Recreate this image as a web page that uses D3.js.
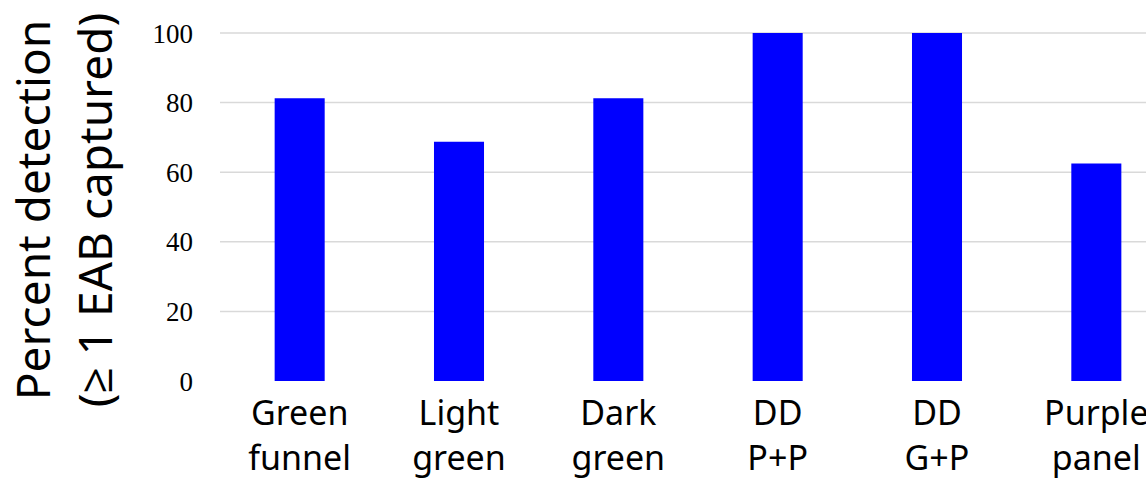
<!DOCTYPE html>
<html>
<head>
<meta charset="utf-8">
<script src="https://cdn.jsdelivr.net/npm/d3@7"></script>
<style>
  html, body { margin: 0; padding: 0; background: #fff; }
  svg { display: block; }
</style>
</head>
<body>
<svg id="chart" width="1146" height="479"></svg>
<script>
const categories = [["Green", "funnel"], ["Light", "green"], ["Dark", "green"], ["DD", "P+P"], ["DD", "G+P"], ["Purple", "panel"]];
const values = [81.25, 68.75, 81.25, 100, 100, 62.5];
const yTicks = [0, 20, 40, 60, 80, 100];
const yTitle = ["Percent detection", "(\u2265 1 EAB captured)"];

const svg = d3.select("#chart");
const plotLeft = 220, plotRight = 1176, plotTop = 33, plotBottom = 381;

const x = d3.scaleBand()
  .domain(d3.range(categories.length))
  .range([plotLeft, plotRight])
  .paddingInner(0.686)
  .paddingOuter(0.343);

const y = d3.scaleLinear().domain([0, 100]).range([plotBottom, plotTop]);

// gridlines
svg.append("g").selectAll("line")
  .data(yTicks.filter(d => d > 0))
  .join("line")
  .attr("x1", plotLeft).attr("x2", 1146)
  .attr("y1", d => y(d)).attr("y2", d => y(d))
  .attr("stroke", "#d9d9d9").attr("stroke-width", 1.5);

// y axis labels
const yAxis = d3.axisLeft(y).tickValues(yTicks).tickSize(0).tickPadding(0).tickFormat(d3.format("d"));
const gy = svg.append("g").attr("transform", "translate(193,0)").call(yAxis);
gy.select(".domain").remove();
gy.selectAll("text")
  .attr("font-family", "'Liberation Serif', 'Times New Roman', serif")
  .attr("font-size", 27)
  .attr("fill", "#000")
  .attr("dy", "0.34em");

// bars
svg.append("g").selectAll("rect")
  .data(values)
  .join("rect")
  .attr("x", (d, i) => x(i))
  .attr("width", x.bandwidth())
  .attr("y", d => y(d))
  .attr("height", d => y(0) - y(d))
  .attr("fill", "#0000ff");

// category labels
const cat = svg.append("g").selectAll("text")
  .data(categories)
  .join("text")
  .attr("x", (d, i) => x(i) + x.bandwidth() / 2)
  .attr("y", 425)
  .attr("text-anchor", "middle")
  .attr("font-family", "'Noto Sans', 'Open Sans', sans-serif")
  .attr("font-size", 34)
  .attr("fill", "#000");
cat.selectAll("tspan")
  .data(d => d)
  .join("tspan")
  .attr("x", function() { return d3.select(this.parentNode).attr("x"); })
  .attr("dy", (d, i) => i === 0 ? 0 : 45)
  .text(d => d);

// y title
const title = svg.append("text")
  .attr("transform", "translate(50,210) rotate(-90)")
  .attr("text-anchor", "middle")
  .attr("font-family", "'Noto Sans', 'Open Sans', sans-serif")
  .attr("font-size", 46)
  .attr("fill", "#000");
title.selectAll("tspan")
  .data(yTitle)
  .join("tspan")
  .attr("x", 0)
  .attr("y", (d, i) => i * 62)
  .text(d => d);
</script>
</body>
</html>
